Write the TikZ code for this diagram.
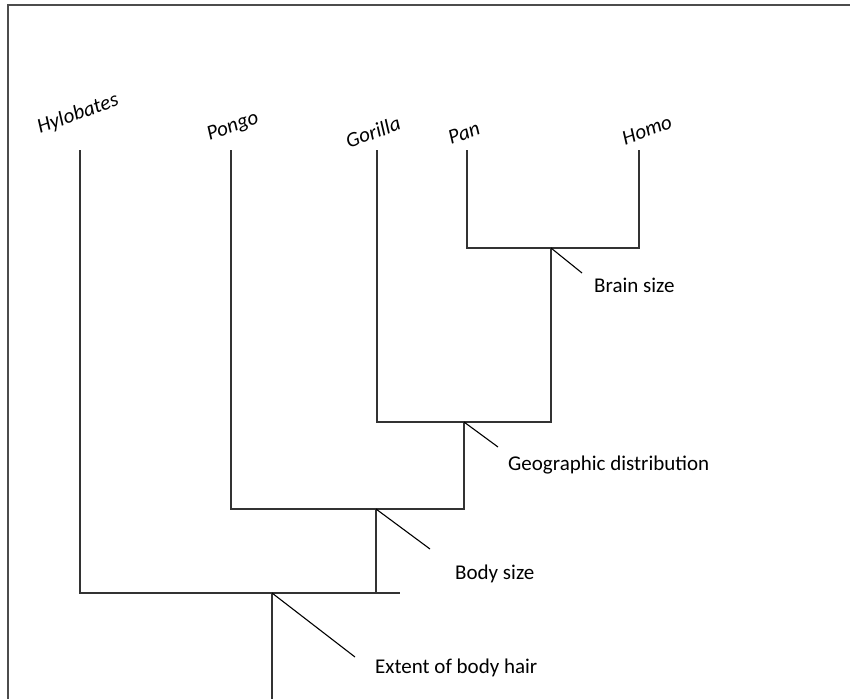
\documentclass[tikz,border=0pt]{standalone}
\usepackage{fontspec}
\setmainfont{Carlito}
\begin{document}
\begin{tikzpicture}[x=1pt,y=-1pt,
  tree/.style={line width=1.3pt, draw=black!80},
  framebox/.style={line width=1.6pt, draw=black!70},
  pointer/.style={line width=1.1pt, draw=black},
  species/.style={font=\fontsize{21}{24}\selectfont\itshape, rotate=20, inner sep=0pt},
  trait/.style={font=\fontsize{21}{24}\selectfont, anchor=west, inner sep=0pt}]
\useasboundingbox (0,0) rectangle (850,699);
\draw[framebox] (8,699) -- (8,5) -- (850,5);

% species labels
\node[species] (hyl) at (78,114) {Hylobates};
\node[species] (pon) at (233,127) {Pongo};
\node[species] (gor) at (373,132) {Gorilla};
\node[species] (pan) at (464,133) {Pan};
\node[species] (hom) at (647,130) {Homo};

% tree coordinates
\coordinate (thyl) at (80,150);  \coordinate (bhyl) at (80,593);
\coordinate (tpon) at (231,150); \coordinate (bpon) at (231,509);
\coordinate (tgor) at (377,150); \coordinate (bgor) at (377,422);
\coordinate (tpan) at (467,150); \coordinate (bpan) at (467,248);
\coordinate (thom) at (639,150); \coordinate (bhom) at (639,248);
\coordinate (jph) at (551,248);  \coordinate (sph) at (551,422);
\coordinate (jg) at (464,422);   \coordinate (sg) at (464,509);
\coordinate (jp) at (376,509);   \coordinate (sp) at (376,593);
\coordinate (hend) at (400,593);
\coordinate (jh) at (272,593);   \coordinate (root) at (272,699);

\draw[tree] (tpan) -- (bpan) -- (bhom) -- (thom);
\draw[tree] (jph) -- (sph) -- (bgor) -- (tgor);
\draw[tree] (jg) -- (sg) -- (bpon) -- (tpon);
\draw[tree] (jp) -- (sp);
\draw[tree] (thyl) -- (bhyl) -- (hend);
\draw[tree] (jh) -- (root);

% trait labels and pointers
\node[trait] (brain) at (594,285) {Brain size};
\node[trait] (geo) at (508,465) {Geographic distribution};
\node[trait] (body) at (455,574) {Body size};
\node[trait] (hair) at (375,668) {Extent of body hair};

\coordinate (pbrain) at (582,273);
\coordinate (pgeo) at (498,447);
\coordinate (pbody) at (430,549);
\coordinate (phair) at (355,657);

\draw[pointer] (jph) -- (pbrain);
\draw[pointer] (jg) -- (pgeo);
\draw[pointer] (jp) -- (pbody);
\draw[pointer] (jh) -- (phair);
\end{tikzpicture}
\end{document}
